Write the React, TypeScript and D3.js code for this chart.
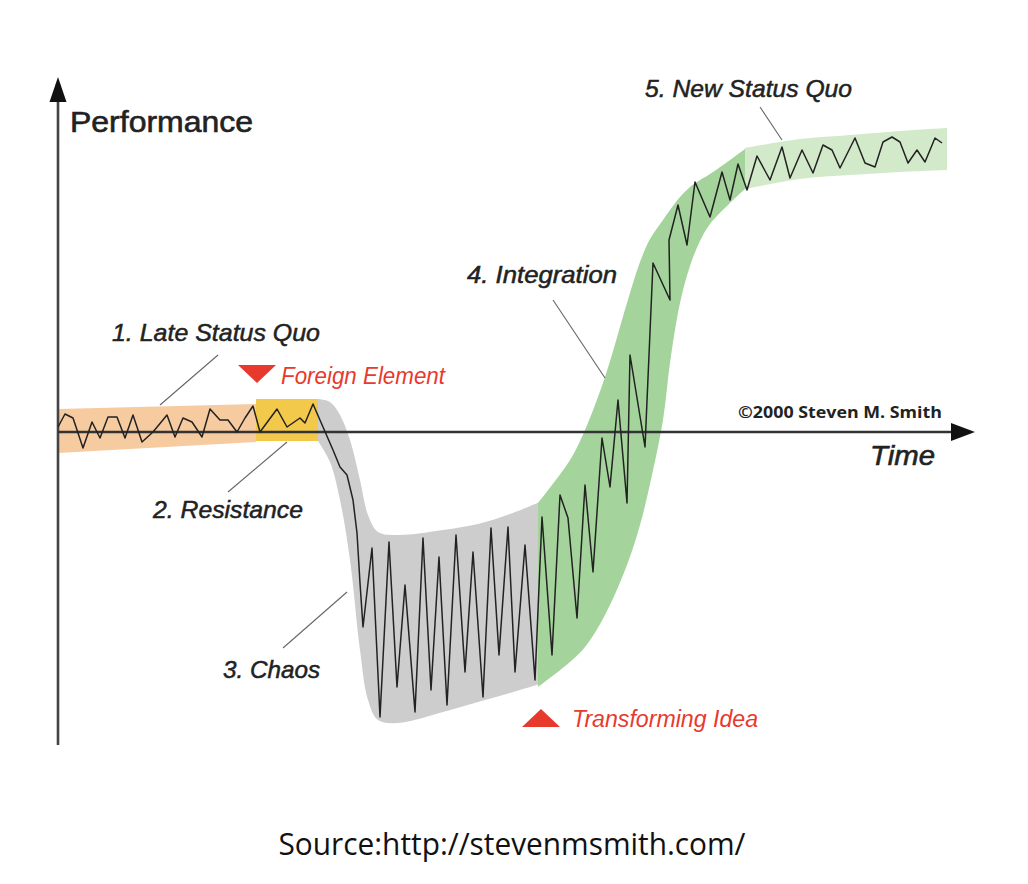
import React from 'react';
import * as d3 from 'd3';

// ---- Data (time units, performance units) ----
const lineTime = [
  0, 0.7, 1.5, 2.5, 3.4, 4.2, 5.0, 5.9, 6.7, 7.5, 8.4, 9.5, 10.9, 11.7, 12.5, 13.4, 14.4, 15.2, 16.2, 17.0,
  17.9, 18.7, 19.5, 20.2, 21.9, 22.9, 24.2, 24.7, 25.5,
  26.5, 27.5, 28.2, 28.9, 29.5, 29.9, 30.2, 30.5, 31.4, 32.2, 33.1, 33.9, 34.7, 35.7, 36.5, 37.3, 38.1, 38.9,
  39.8, 40.7, 41.5, 42.5, 43.3, 44.1, 45.0, 45.7, 46.7, 47.7,
  48.4, 49.4, 50.2, 51.0, 51.9, 52.7, 53.5, 54.4, 55.2, 56.0, 56.9, 57.2, 58.7, 59.5, 61.2, 61.1, 62.0, 62.9,
  63.7, 65.2, 66.4, 67.2, 68.0, 68.9,
  69.9, 71.2, 72.4, 73.2, 74.4, 75.5, 76.5, 77.4, 78.2, 79.7, 80.7, 81.7, 82.5, 83.4, 84.2, 85.0, 85.9, 86.7,
  87.7, 88.4,
];
const linePerf = [
  0.5, 1.8, 1.4, -1.6, 1.0, -0.6, 1.5, 1.5, -0.6, 1.7, -1.0, 0, 1.7, -0.5, 1.4, 1.0, -0.5, 2.3, 1.2, 1.2,
  0, 1.4, 2.6, 0, 2.3, 0.5, 1.4, 0.9, 2.8,
  0.5, -1.8, -3.5, -4.3, -6.8, -10.1, -15.1, -19.5, -11.6, -28.5, -11.0, -25.5, -15.3, -28.0, -10.6, -25.8, -12.5, -27.3,
  -10.3, -24.0, -12.0, -26.5, -9.6, -22.3, -9.5, -24.0, -11.3, -24.8,
  -8.5, -22.3, -6.3, -8.6, -18.6, -5.3, -14.0, -0.6, -5.5, 3.2, -7.1, 7.7, -1.5, 16.9, 13.2, 19.2, 22.7, 18.7,
  25.0, 21.5, 26.0, 23.2, 26.8, 24.2,
  27.6, 25.2, 28.5, 25.4, 28.2, 25.9, 28.7, 28.2, 26.4, 29.4, 26.9, 26.5, 29.0, 29.5, 29.0, 26.9, 28.2, 27.0,
  29.4, 28.9,
];

// bands: [time, low, high]
const lateStatusQuoBand: [number, number, number][] = [
  [0, -2.1, 2.3],
  [19.8, -1.0, 2.8],
];
const resistanceBand: [number, number, number][] = [
  [19.8, -0.9, 3.3],
  [26.0, -0.9, 3.3],
];
const chaosBand: [number, number, number][] = [
  [26.0, -0.9, 3.3],
  [27.2, -3.0, 3.0],
  [28.2, -6.8, 1.7],
  [29.2, -12.8, -0.8],
  [30.2, -21.8, -4.8],
  [31.0, -26.8, -8.3],
  [32.0, -28.8, -10.0],
  [34.0, -29.1, -10.3],
  [38.5, -28.0, -9.8],
  [42.0, -27.0, -9.2],
  [45.2, -26.1, -8.2],
  [48.2, -25.2, -7.0],
];
const integrationBand: [number, number, number][] = [
  [48.0, -25.5, -7.1],
  [51.2, -23.0, -2.8],
  [52.7, -21.5, 0.2],
  [54.7, -18.3, 5.5],
  [56.9, -13.3, 12.9],
  [58.2, -9.3, 17.0],
  [59.2, -5.2, 19.3],
  [60.5, 1.2, 21.2],
  [61.2, 6.9, 22.2],
  [62.2, 12.9, 23.5],
  [63.2, 16.6, 24.5],
  [64.2, 19.1, 25.2],
  [65.2, 20.8, 25.8],
  [67.2, 22.9, 27.2],
  [68.7, 24.3, 28.3],
];
const newStatusQuoBand: [number, number, number][] = [
  [68.7, 24.3, 28.4],
  [74.2, 25.3, 29.3],
  [79.2, 25.7, 29.7],
  [84.2, 26.0, 30.1],
  [88.9, 26.2, 30.4],
];

const phaseLabels = ['1. Late Status Quo', '2. Resistance', '3. Chaos', '4. Integration', '5. New Status Quo'];
const eventLabels = ['Foreign Element', 'Transforming Idea'];
const axisLabels = ['Performance', 'Time'];
const copyright = '©2000 Steven M. Smith';
const sourceText = 'Source:http://stevenmsmith.com/';

const W = 1028;
const H = 884;
const HAND = "'Liberation Sans', Arial, sans-serif";
const RED = '#e8392d';
const INK = '#222';

export default function App() {
  const x = d3.scaleLinear().domain([0, 92]).range([58, 978]);
  const y = d3.scaleLinear().domain([-32, 32]).range([752, 112]);

  const area = (curve: any) =>
    d3
      .area<[number, number, number]>()
      .x((d) => x(d[0]))
      .y0((d) => y(d[1]))
      .y1((d) => y(d[2]))
      .curve(curve);
  const smooth = d3.curveCatmullRom.alpha(0.5);

  const linePts = lineTime.map((t, i) => [t, linePerf[i]] as [number, number]);
  const line = d3
    .line<[number, number]>()
    .x((d) => x(d[0]))
    .y((d) => y(d[1]))
    .curve(d3.curveLinear);

  const leaders: [number, number, number, number][] = [
    [16.0, 7.7, 10.2, 2.7],
    [22.9, -1.0, 17.0, -6.0],
    [28.9, -16.0, 22.5, -21.6],
    [49.5, 13.2, 54.7, 5.4],
    [70.2, 32.5, 72.4, 29.2],
  ];

  const phaseLayout = [
    { t: 5.4, p: 9.1, w: 208, s: 24 },
    { t: 9.5, p: -8.6, w: 150, s: 24 },
    { t: 16.5, p: -24.6, w: 97, s: 24 },
    { t: 40.9, p: 14.9, w: 150, s: 23 },
    { t: 58.7, p: 33.5, w: 207, s: 24 },
  ];

  const fe = { t: 19.9, p: 4.9 }; // tip of down triangle
  const ti = { t: 48.3, p: -27.7 }; // tip of up triangle

  return (
    <svg
      width={W}
      height={H}
      viewBox={`0 0 ${W} ${H}`}
      style={{ position: 'absolute', left: 0, top: 0, display: 'block', background: '#fff' }}
    >
      {/* bands */}
      <path d={area(d3.curveLinear)(lateStatusQuoBand) || ''} fill="#f7cba0" />
      <path d={area(d3.curveLinear)(resistanceBand) || ''} fill="#f2c94a" />
      <path d={area(smooth)(chaosBand) || ''} fill="#cdcdcd" />
      <path d={area(smooth)(integrationBand) || ''} fill="#a4d49c" />
      <path d={area(smooth)(newStatusQuoBand) || ''} fill="#d2eac9" />

      {/* axes */}
      <line x1={x(0)} y1={y(-31.3)} x2={x(0)} y2={y(33)} stroke="#444" strokeWidth={2.6} />
      <path
        d={`M${x(0)},${y(35.5)} L${x(0) - 8.5},${y(35.5) + 25} L${x(0) + 8.5},${y(35.5) + 25} Z`}
        fill="#111"
      />
      <line x1={x(0)} y1={y(0)} x2={x(89.5)} y2={y(0)} stroke="#333" strokeWidth={2.6} />
      <path
        d={`M${x(91.7)},${y(0)} L${x(91.7) - 24},${y(0) - 9} L${x(91.7) - 24},${y(0) + 9} Z`}
        fill="#111"
      />

      {/* performance line */}
      <path d={line(linePts) || ''} fill="none" stroke={INK} strokeWidth={1.5} strokeLinejoin="round" />

      {/* leader lines */}
      {leaders.map((l, i) => (
        <line key={i} x1={x(l[0])} y1={y(l[1])} x2={x(l[2])} y2={y(l[3])} stroke="#666" strokeWidth={1.1} />
      ))}

      {/* phase labels */}
      {phaseLabels.map((txt, i) => {
        const L = phaseLayout[i];
        return (
          <text
            key={txt}
            x={x(L.t)}
            y={y(L.p)}
            fontFamily={HAND}
            fontStyle="italic"
            fontSize={L.s}
            fill={INK}
            stroke={INK}
            strokeWidth={0.5}
            textLength={L.w}
            lengthAdjust="spacingAndGlyphs"
          >
            {txt}
          </text>
        );
      })}

      {/* events */}
      <path
        d={`M${x(fe.t)},${y(fe.p)} L${x(fe.t) - 19},${y(fe.p) - 18} L${x(fe.t) + 19},${y(fe.p) - 18} Z`}
        fill={RED}
      />
      <text
        x={x(22.3)}
        y={y(4.8)}
        fontFamily={HAND}
        fontStyle="italic"
        fontSize={23}
        fill={RED}
        textLength={164}
        lengthAdjust="spacingAndGlyphs"
      >
        {eventLabels[0]}
      </text>
      <path
        d={`M${x(ti.t)},${y(ti.p)} L${x(ti.t) - 19},${y(ti.p) + 18} L${x(ti.t) + 19},${y(ti.p) + 18} Z`}
        fill={RED}
      />
      <text
        x={x(51.4)}
        y={y(-29.5)}
        fontFamily={HAND}
        fontStyle="italic"
        fontSize={23}
        fill={RED}
        textLength={186}
        lengthAdjust="spacingAndGlyphs"
      >
        {eventLabels[1]}
      </text>

      {/* axis labels */}
      <text
        x={x(1.2)}
        y={y(30.0)}
        fontFamily={HAND}
        fontSize={29}
        fill={INK}
        stroke={INK}
        strokeWidth={0.6}
        textLength={183}
        lengthAdjust="spacingAndGlyphs"
      >
        {axisLabels[0]}
      </text>
      <text
        x={x(81.2)}
        y={y(-3.3)}
        fontFamily={HAND}
        fontStyle="italic"
        fontSize={28}
        fill={INK}
        stroke={INK}
        strokeWidth={0.6}
        textLength={65}
        lengthAdjust="spacingAndGlyphs"
      >
        {axisLabels[1]}
      </text>
      <text
        x={x(68.0)}
        y={y(1.4)}
        fontFamily="'Open Sans', 'DejaVu Sans', sans-serif"
        fontWeight="bold"
        fontSize={16}
        fill={INK}
        textLength={204}
        lengthAdjust="spacingAndGlyphs"
      >
        {copyright}
      </text>

      {/* source */}
      <text
        x={512}
        y={855}
        textAnchor="middle"
        fontFamily="'Open Sans', 'Noto Sans', sans-serif"
        fontSize={31}
        fill="#111"
        textLength={467}
        lengthAdjust="spacingAndGlyphs"
      >
        {sourceText}
      </text>
    </svg>
  );
}
